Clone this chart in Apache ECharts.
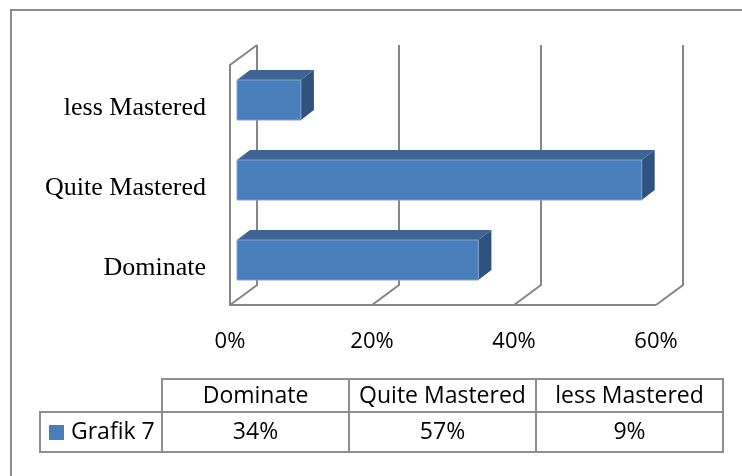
<!DOCTYPE html>
<html>
<head>
<meta charset="utf-8">
<title>Grafik 7</title>
<script src="https://cdn.jsdelivr.net/npm/echarts@6/dist/echarts.min.js"></script>
<style>
    html, body { margin: 0; padding: 0; background: #fff; }
    #chart { width: 742px; height: 476px; }
</style>
</head>
<body>
<div id="chart"></div>
<script>
// data
var categories = ['Dominate', 'Quite Mastered', 'less Mastered'];
var values = [34, 57, 9];
var xTicks = [0, 20, 40, 60];
var seriesName = 'Grafik 7';

var myChart = echarts.init(document.getElementById('chart'));

// fake 3d: offsets from the bar front plane
var FRONT = [-7, 5],
    BACK = [20, -15],
    BAR_DEPTH = [13, -10];

var lineColor = '#868686',
    frontColor = '#4a7ebb',
    topColor = '#3c6594',
    sideColor = '#30527f';

// walls / floor / back gridlines
function renderFrame(params, api) {
    var cs = params.coordSys;
    var x = api.coord([api.value(0), 0])[0];
    var top = cs.y, bottom = cs.y + cs.height;
    var style = {stroke: lineColor, lineWidth: 2, fill: null};
    var children = [];
    children.push({
        type: 'polyline',
        shape: {points: [[x + BACK[0], top + BACK[1]], [x + BACK[0], bottom + BACK[1]], [x + FRONT[0], bottom + FRONT[1]]]},
        style: style
    });
    if (params.dataIndex === 0) {
        var xEnd = api.coord([xTicks[xTicks.length - 1], 0])[0];
        // left side wall + floor front edge
        children.push({
            type: 'polyline',
            shape: {points: [[x + BACK[0], top + BACK[1]], [x + FRONT[0], top + FRONT[1]], [x + FRONT[0], bottom + FRONT[1]], [xEnd + FRONT[0], bottom + FRONT[1]]]},
            style: style
        });
    }
    return {type: 'group', children: children};
}

function renderBar(params, api) {
    var i = api.value(1);
    var start = api.coord([0, i]);
    var end = api.coord([api.value(0), i]);
    var h = api.size([0, 1])[1] * 0.5;
    var x0 = start[0], x1 = end[0];
    var y0 = start[1] - h / 2, y1 = start[1] + h / 2;
    var dx = BAR_DEPTH[0], dy = BAR_DEPTH[1];
    return {
        type: 'group',
        children: [
            {type: 'polygon', shape: {points: [[x0, y0], [x1, y0], [x1 + dx, y0 + dy], [x0 + dx, y0 + dy]]}, style: {fill: topColor}},
            {type: 'polygon', shape: {points: [[x1, y0], [x1 + dx, y0 + dy], [x1 + dx, y1 + dy], [x1, y1]]}, style: {fill: sideColor}},
            {type: 'rect', shape: {x: x0, y: y0, width: x1 - x0, height: h}, style: {fill: frontColor, stroke: '#7ea3d2', lineWidth: 1}}
        ]
    };
}

// data table under the chart
var TX0 = 40, COL0_W = 122, COL_W = 187,
    HEAD_Y = 379, HEAD_H = 33, ROW_Y = 412, ROW_H = 40;
var cellLine = {stroke: '#8e8e8e', lineWidth: 2, fill: null};
var cellFont = {fontSize: 23, fontFamily: 'Open Sans', fill: '#000', align: 'center', verticalAlign: 'middle'};

var tableEls = [];
tableEls.push({type: 'rect', shape: {x: TX0, y: ROW_Y, width: COL0_W, height: ROW_H}, style: cellLine});
categories.forEach(function (c, i) {
    var cx = TX0 + COL0_W + i * COL_W;
    tableEls.push({type: 'rect', shape: {x: cx, y: HEAD_Y, width: COL_W, height: HEAD_H}, style: cellLine});
    tableEls.push({type: 'rect', shape: {x: cx, y: ROW_Y, width: COL_W, height: ROW_H}, style: cellLine});
    tableEls.push({type: 'text', x: cx + COL_W / 2, y: HEAD_Y + HEAD_H / 2 + 1,
        style: echarts.util.extend({text: c}, cellFont)});
    tableEls.push({type: 'text', x: cx + COL_W / 2, y: ROW_Y + ROW_H / 2,
        style: echarts.util.extend({text: values[i] + '%'}, cellFont)});
});
// outer chart border (right/bottom cut off in the original)
tableEls.push({type: 'rect', shape: {x: 11, y: 10, width: 800, height: 600}, style: {stroke: '#8c8c8c', lineWidth: 2, fill: null}});

var option = {
    animation: false,
    backgroundColor: '#fff',
    grid: {left: 237, top: 60, width: 426, height: 240},
    legend: {
        data: [seriesName],
        left: 49,
        top: 421,
        padding: 0,
        icon: 'rect',
        itemWidth: 15,
        itemHeight: 15,
        selectedMode: false,
        textStyle: {fontSize: 23, fontFamily: 'Open Sans', color: '#000', padding: [0, 0, 0, 2]}
    },
    xAxis: {
        type: 'value',
        min: 0,
        max: 60,
        interval: 20,
        axisLine: {show: false},
        axisTick: {show: false},
        splitLine: {show: false},
        axisLabel: {
            formatter: '{value}%',
            fontSize: 22,
            fontFamily: 'Open Sans',
            color: '#000',
            margin: 31,
            padding: [0, 14, 0, 0]
        }
    },
    yAxis: {
        type: 'category',
        data: categories,
        axisLine: {show: false},
        axisTick: {show: false},
        splitLine: {show: false},
        axisLabel: {
            fontSize: 26,
            fontFamily: 'Liberation Serif',
            color: '#000',
            margin: 31,
            // labels sit on the front plane, a bit below the bar centre
            verticalAlign: 'top',
            lineHeight: 16
        }
    },
    graphic: tableEls,
    series: [
        {
            type: 'custom',
            name: 'frame',
            renderItem: renderFrame,
            data: xTicks.map(function (v) { return [v, 0]; }),
            encode: {x: 0, y: 1},
            z: 1,
            silent: true
        },
        {
            type: 'custom',
            name: seriesName,
            renderItem: renderBar,
            itemStyle: {color: frontColor},
            data: values.map(function (v, i) { return [v, i]; }),
            encode: {x: 0, y: 1},
            z: 2
        }
    ]
};
myChart.setOption(option);
</script>
</body>
</html>
